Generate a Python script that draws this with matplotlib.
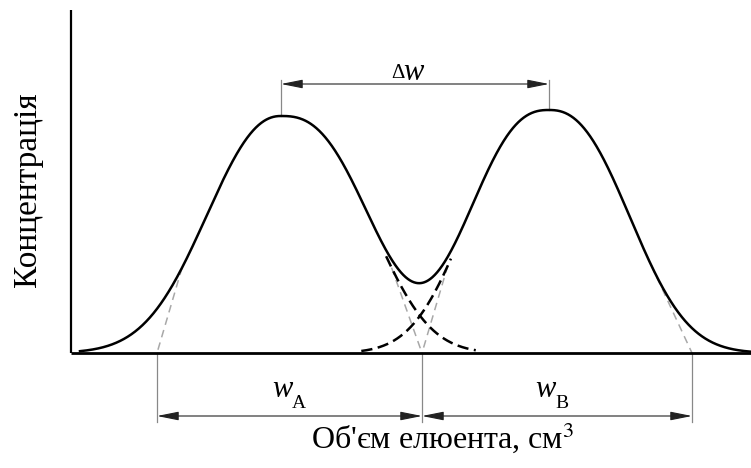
import numpy as np
import matplotlib
matplotlib.use("Agg")
import matplotlib.pyplot as plt

plt.rcParams["font.family"] = ["Liberation Serif", "DejaVu Serif"]
plt.rcParams["mathtext.fontset"] = "stix"

# Elution volume scale (arbitrary units, origin at the axis corner)
peak_names = ["A", "B"]
peak_center = [210.0, 478.0]      # retention volume of each peak
peak_height = [237.0, 243.0]      # maximum concentration
peak_sigma_left = [71.5, 76.0]    # width of the leading flank
peak_sigma_right = [84.0, 76.0]   # width of the trailing flank
peak_shape_left = [2.2, 2.5]      # flank exponents (2 = Gaussian)
peak_shape_right = [2.6, 2.4]

# Base limits obtained from the tangents to the flanks
base_A = [86.0, 351.0]
base_B = [351.0, 621.0]
tangent_level = 0.36              # fraction of peak height where the tangent starts

x_max = 680.0
y_axis_top = 343.0


def profile(x, i):
    c, h = peak_center[i], peak_height[i]
    left = x < c
    s = np.where(left, peak_sigma_left[i], peak_sigma_right[i])
    p = np.where(left, peak_shape_left[i], peak_shape_right[i])
    u = np.abs(x - c) / s
    return h * np.exp(-0.5 * u ** p)


def flank_x(i, side, frac):
    s = peak_sigma_left[i] if side < 0 else peak_sigma_right[i]
    p = peak_shape_left[i] if side < 0 else peak_shape_right[i]
    u = (2.0 * np.log(1.0 / frac)) ** (1.0 / p)
    return peak_center[i] + side * s * u


fig = plt.figure(figsize=(7.51, 4.68), dpi=100)
ax = fig.add_axes([0, 0, 1, 1])
ax.set_xlim(-71, 680)
ax.set_ylim(-115, 353)
ax.axis("off")

x = np.linspace(9, x_max, 2000)
pa = profile(x, 0)
pb = profile(x, 1)

# Smooth envelope of the two overlapping peaks
q = 1.1
envelope = (pa ** q + pb ** q) ** (1.0 / q)

# Individual peaks inside the overlap zone
dash = (0, (4.5, 2.2))
mask_a = (x > 315) & (x < 405)
mask_b = (x > 290) & (x < 380)
ax.plot(x[mask_a], pa[mask_a], color="black", lw=1.8, ls=dash, zorder=3)
ax.plot(x[mask_b], pb[mask_b], color="black", lw=1.8, ls=dash, zorder=3)

ax.plot(x, envelope, color="black", lw=1.8, zorder=4)

# Tangents to the flanks down to the base line
gray = "#a8a8a8"
tangents = [(0, -1, base_A[0]), (0, 1, base_A[1]),
            (1, -1, base_B[0]), (1, 1, base_B[1])]
for i, side, xb in tangents:
    xs = flank_x(i, side, tangent_level)
    ax.plot([xs, xb], [peak_height[i] * tangent_level, 0], color=gray, lw=1.1,
            ls=(0, (5, 3.5)), zorder=2)

# Axes
ax.plot([0, 0], [0, y_axis_top], color="black", lw=1.6, solid_capstyle="butt", zorder=5)
ax.plot([0, x_max], [0, 0], color="black", lw=2.0, solid_capstyle="butt", zorder=5)

# Extension lines for the base widths
dim_y = -63.0
for xb in [base_A[0], base_A[1], base_B[1]]:
    ax.plot([xb, xb], [0, dim_y - 6], color="#888888", lw=0.9, zorder=1)

arrow_kw = dict(arrowstyle="<|-|>,head_length=1.1,head_width=0.22", color="#222222",
                lw=0.8, shrinkA=0, shrinkB=0, mutation_scale=12)
ax.annotate("", xy=(base_A[0], dim_y), xytext=(base_A[1], dim_y), arrowprops=arrow_kw)
ax.annotate("", xy=(base_B[0], dim_y), xytext=(base_B[1], dim_y), arrowprops=arrow_kw)


def width_label(x_left, y_base, sub):
    ax.text(x_left, y_base, "w", fontsize=22, fontstyle="italic",
            ha="left", va="baseline")
    ax.text(x_left + 20, y_base - 11, sub, fontsize=14, ha="left", va="baseline")


width_label(201, -44, "A")
width_label(464, -44, "B")

# Distance between the peak maxima
top_y = 269.0
for c, h in zip(peak_center, peak_height):
    ax.plot([c, c], [h, top_y + 4], color="#888888", lw=0.9, zorder=1)
ax.annotate("", xy=(peak_center[0], top_y), xytext=(peak_center[1], top_y), arrowprops=arrow_kw)
ax.text(320, 275, "Δ", fontsize=15, ha="left", va="baseline")
ax.text(332, 273, "w", fontsize=22, fontstyle="italic", ha="left", va="baseline")

# Axis titles
ax.text(-43, 163, "Концентрація", rotation=90, fontsize=24, ha="center", va="center")
ax.text(372, -85, "Об'єм елюента, см$^3$", fontsize=23, ha="center", va="center")

fig.savefig("out.png", dpi=100)
